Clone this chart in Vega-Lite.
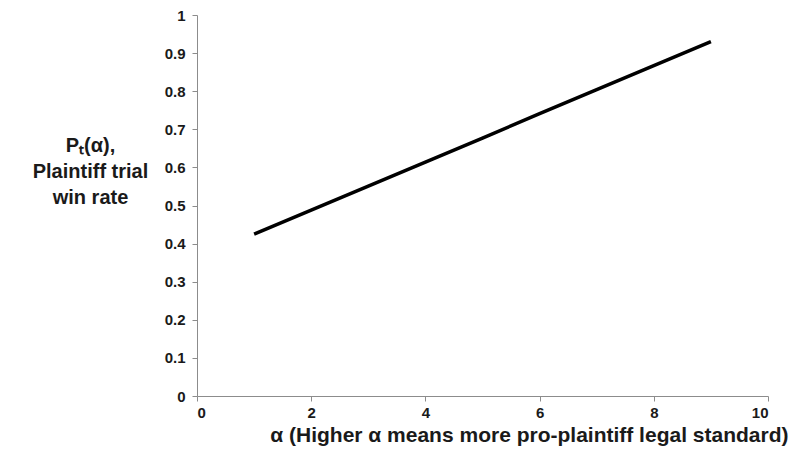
{
  "$schema": "https://vega.github.io/schema/vega-lite/v6.json",
  "width": 571,
  "height": 381,
  "autosize": {"type": "none"},
  "padding": {"left": 197, "top": 15, "right": 22, "bottom": 76},
  "background": "white",
  "config": {"view": {"stroke": null}, "font": "Liberation Sans"},
  "data": {"values": [
    {"alpha": 1, "p": 0.425},
    {"alpha": 2, "p": 0.488},
    {"alpha": 3, "p": 0.551},
    {"alpha": 4, "p": 0.614},
    {"alpha": 5, "p": 0.677},
    {"alpha": 6, "p": 0.741},
    {"alpha": 7, "p": 0.804},
    {"alpha": 8, "p": 0.867},
    {"alpha": 9, "p": 0.93}
  ]},
  "mark": {"type": "line", "color": "#000000", "strokeWidth": 3.5},
  "encoding": {
    "x": {
      "field": "alpha", "type": "quantitative",
      "scale": {"domain": [0, 10], "nice": false},
      "axis": {
        "values": [0, 2, 4, 6, 8, 10], "grid": false,
        "domainColor": "#8c8c8c", "tickColor": "#8c8c8c", "tickSize": 5,
        "labelFont": "Liberation Sans", "labelFontWeight": "bold", "labelFontSize": 15, "labelColor": "#1a1a1a", "labelPadding": 4,
        "title": "α (Higher α means more pro-plaintiff legal standard)",
        "titleFont": "Liberation Sans", "titleFontWeight": "bold", "titleFontSize": 21, "titleColor": "#1a1a1a",
        "titleAnchor": "end", "titleAlign": "right", "titleX": 591, "titleY": 39, "titleBaseline": "middle"
      }
    },
    "y": {
      "field": "p", "type": "quantitative",
      "scale": {"domain": [0, 1], "nice": false},
      "axis": {
        "values": [0, 0.1, 0.2, 0.3, 0.4, 0.5, 0.6, 0.7, 0.8, 0.9, 1], "grid": false,
        "labelExpr": "format(datum.value, '~g')",
        "domainColor": "#8c8c8c", "tickColor": "#8c8c8c", "tickSize": 5,
        "labelFont": "Liberation Sans", "labelFontWeight": "bold", "labelFontSize": 15, "labelColor": "#1a1a1a", "labelPadding": 7,
        "title": ["Pₜ(α),", "Plaintiff trial", "win rate"],
        "titleFont": "Liberation Sans", "titleFontWeight": "bold", "titleFontSize": 20, "titleColor": "#1a1a1a",
        "titleAngle": 0, "titleAlign": "center", "titleBaseline": "top", "titleX": -107, "titleY": 120, "titleLineHeight": 26
      }
    }
  }
}
